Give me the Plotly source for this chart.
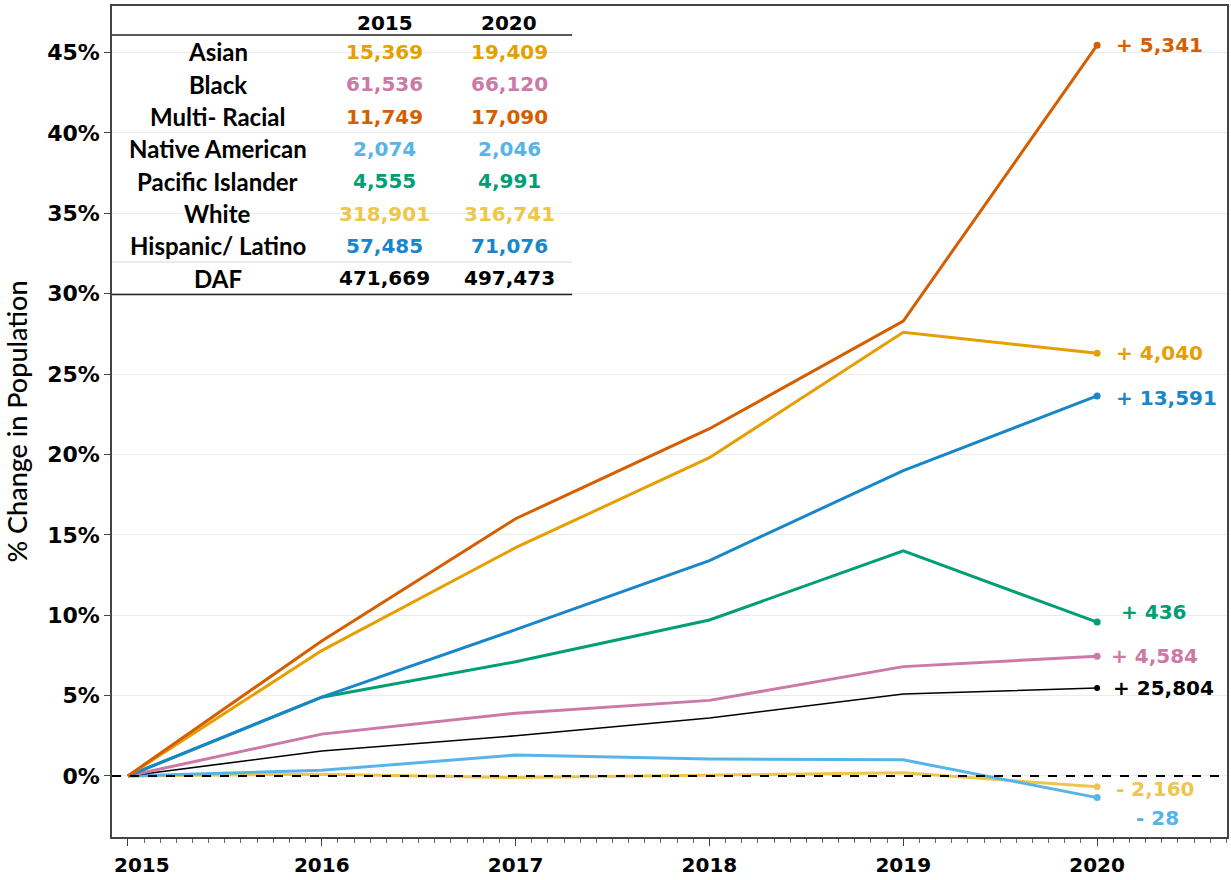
import plotly.graph_objects as go

years = [2015, 2016, 2017, 2018, 2019, 2020]

groups = ["Asian", "Black", "Multi- Racial", "Native American",
          "Pacific Islander", "White", "Hispanic/ Latino", "DAF"]
pop_2015 = [15369, 61536, 11749, 2074, 4555, 318901, 57485, 471669]
pop_2020 = [19409, 66120, 17090, 2046, 4991, 316741, 71076, 497473]

# % change vs 2015
pct_asian = [0, 7.8, 14.2, 19.8, 27.6, 26.29]
pct_black = [0, 2.6, 3.9, 4.7, 6.8, 7.45]
pct_multi = [0, 8.4, 16.0, 21.6, 28.3, 45.46]
pct_native = [0, 0.35, 1.3, 1.05, 1.0, -1.35]
pct_pacific = [0, 4.9, 7.1, 9.7, 14.0, 9.57]
pct_white = [0, 0.1, -0.1, 0.05, 0.2, -0.68]
pct_hispanic = [0, 4.9, 9.1, 13.4, 19.0, 23.64]
pct_daf = [0, 1.55, 2.5, 3.6, 5.1, 5.47]

series = [pct_asian, pct_black, pct_multi, pct_native,
          pct_pacific, pct_white, pct_hispanic, pct_daf]
colors = ["#E69F00", "#CC79A7", "#D55E00", "#56B4E9",
          "#009E73", "#EEC64A", "#1A86CA", "#000000"]

y_ticks = [0, 5, 10, 15, 20, 25, 30, 35, 40, 45]
x_ticktext = ["", "2016", "2017", "2018", "2019", "2020"]

NUM_FONT = "DejaVu Sans"
LBL_FONT = "Lato"

# plot-area geometry (px) for placing the table
L, R, T, B = 112, 1229, 6, 837
W, H = 1231, 880
def xp(px):
    return (px - L) / (R - L)
def yp(py):
    return (B - py) / (B - T)

fig = go.Figure()

draw_order = [5, 3, 7, 1, 4, 6, 0, 2]
for i in draw_order:
    width = 1.6 if groups[i] == "DAF" else 3
    msize = 6 if groups[i] == "DAF" else 7
    fig.add_trace(go.Scatter(
        x=years, y=series[i], mode="lines", name=groups[i],
        line=dict(color=colors[i], width=width), showlegend=False,
        hoverinfo="skip"))
    fig.add_trace(go.Scatter(
        x=[years[-1]], y=[series[i][-1]], mode="markers",
        marker=dict(color=colors[i], size=msize), showlegend=False,
        hoverinfo="skip"))

# end labels
label_dy = {"Pacific Islander": 10, "Native American": -20, "White": -2,
            "Hispanic/ Latino": -2}
label_dx = {"Pacific Islander": 22, "Native American": 37, "Black": 12,
            "DAF": 14}
for i, g in enumerate(groups):
    diff = pop_2020[i] - pop_2015[i]
    sign = "+" if diff >= 0 else "-"
    txt = f"{sign} {abs(diff):,}"
    fig.add_annotation(
        x=years[-1], y=series[i][-1], xref="x", yref="y",
        text=f"<b>{txt}</b>", showarrow=False, xanchor="left", yanchor="middle",
        xshift=label_dx.get(g, 17), yshift=label_dy.get(g, 0),
        font=dict(family=NUM_FONT, size=20, color=colors[i]))

# first x tick label (offset to the right as in the reference)
fig.add_annotation(x=years[0], y=0, xref="x", yref="paper",
                   text="<b>2015</b>", showarrow=False, xanchor="center",
                   yanchor="middle", xshift=14, yshift=-28,
                   font=dict(family=NUM_FONT, size=20, color="#000"))

# table
col_label_x, col15_x, col20_x = 218, 385, 510
row_y0, row_dy = 52, 32.3
for cx, hdr in ((col15_x, "2015"), (col20_x, "2020")):
    fig.add_annotation(x=xp(cx), y=yp(23), xref="paper", yref="paper",
                       text=f"<b>{hdr}</b>", showarrow=False,
                       xanchor="center", yanchor="middle",
                       font=dict(family=NUM_FONT, size=20, color="#000"))
for i, g in enumerate(groups):
    py = row_y0 + i * row_dy
    fig.add_annotation(x=xp(col_label_x), y=yp(py), xref="paper", yref="paper",
                       text=f"<b>{g}</b>", showarrow=False,
                       xanchor="center", yanchor="middle",
                       font=dict(family=LBL_FONT, size=24, color="#000"))
    for cx, val in ((col15_x, pop_2015[i]), (col20_x, pop_2020[i])):
        fig.add_annotation(x=xp(cx), y=yp(py), xref="paper", yref="paper",
                           text=f"<b>{val:,}</b>", showarrow=False,
                           xanchor="center", yanchor="middle",
                           font=dict(family=NUM_FONT, size=20, color=colors[i]))

shapes = [
    dict(type="rect", xref="paper", yref="paper", x0=0, x1=xp(322),
         y0=yp(294), y1=yp(36), fillcolor="white", line=dict(width=0),
         layer="between"),
    dict(type="line", xref="paper", yref="paper", x0=0, x1=xp(573),
         y0=yp(35), y1=yp(35), line=dict(color="#222", width=1.5)),
    dict(type="line", xref="paper", yref="paper", x0=0, x1=xp(573),
         y0=yp(262), y1=yp(262), line=dict(color="#d8d8d8", width=1)),
    dict(type="line", xref="paper", yref="paper", x0=0, x1=xp(573),
         y0=yp(294.5), y1=yp(294.5), line=dict(color="#222", width=1.5)),
    dict(type="line", xref="paper", yref="y", x0=0, x1=1, y0=0, y1=0,
         line=dict(color="#000", width=2, dash="dash"), layer="above"),
]

fig.update_layout(
    width=W, height=H, plot_bgcolor="white", paper_bgcolor="white",
    margin=dict(l=L, r=W - R, t=T, b=H - B),
    shapes=shapes,
    xaxis=dict(range=[2014.918, 2020.67], tickmode="array", tickvals=years,
               ticktext=x_ticktext, ticks="outside", ticklen=7,
               tickcolor="#444", ticklabelstandoff=2,
               showgrid=False, zeroline=False, showline=True,
               linecolor="#444", linewidth=1.5, mirror=True,
               tickfont=dict(family=NUM_FONT, size=20, color="#000",
                             weight="bold"),
               minor=dict(dtick=1/12, tick0=2015, ticks="outside",
                          ticklen=4, tickcolor="#666", showgrid=False)),
    yaxis=dict(range=[-3.8, 47.9], tickvals=y_ticks,
               ticktext=[f"{v}%" for v in y_ticks], ticks="outside",
               ticklen=6, tickcolor="#444", showgrid=True,
               gridcolor="#ebebeb", gridwidth=1, zeroline=False,
               showline=True, linecolor="#444", linewidth=1.5, mirror=True,
               tickfont=dict(family=NUM_FONT, size=22, color="#000",
                             weight="bold"),
               title=dict(text="% Change in Population", standoff=12,
                          font=dict(family="Lato", size=27, color="#000",
                                    weight=500))),
)

fig.write_html("out.html", config={"displayModeBar": False},
               post_script="document.body.style.margin='0';")
